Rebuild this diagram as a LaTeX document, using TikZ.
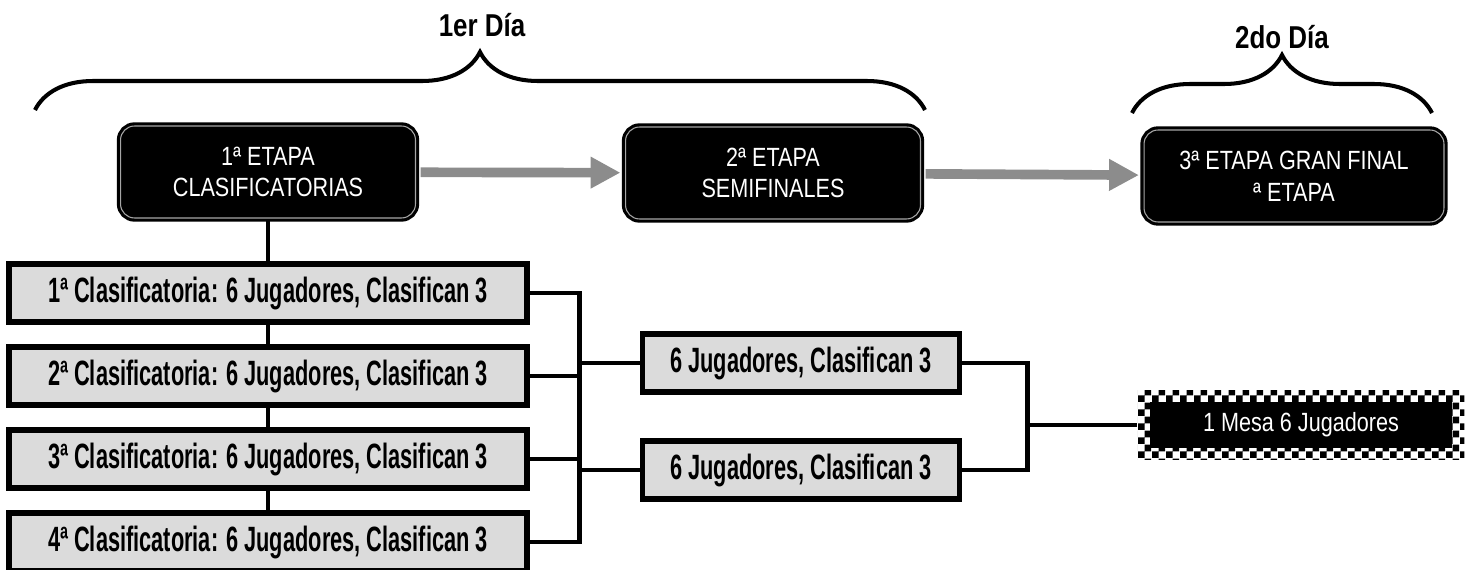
\documentclass[tikz,border=0pt]{standalone}
\usepackage{fontspec}
\setmainfont{Liberation Sans}
\newfontfamily\etapafont{Liberation Sans}[FakeStretch=0.82]
\newfontfamily\clasfont{Liberation Sans}[FakeStretch=0.62]
\usetikzlibrary{arrows.meta,decorations.pathreplacing,patterns}

\pgfdeclarepatternformonly{tablero}{\pgfpointorigin}{\pgfqpoint{8pt}{8pt}}{\pgfqpoint{8pt}{8pt}}{%
  \pgfpathrectangle{\pgfpointorigin}{\pgfqpoint{4pt}{4pt}}%
  \pgfpathrectangle{\pgfqpoint{4pt}{4pt}}{\pgfqpoint{4pt}{4pt}}%
  \pgfusepath{fill}}

\begin{document}
\begin{tikzpicture}[x=0.02cm,y=-0.02cm,
	etapa/.style={draw=black,fill=black,rounded corners=8pt,line width=1.8pt,double=gray!70,double distance=0.6pt,text=white,align=center,inner sep=0pt,minimum width=5.9cm,minimum height=1.84cm,font=\etapafont\fontsize{15}{18}\selectfont},
	clasif/.style={draw=black,fill=black!14,line width=3pt,inner sep=0pt,minimum width=10.36cm,minimum height=1.16cm,font=\clasfont\bfseries\fontsize{20}{22}\selectfont},
	semi/.style={clasif,minimum width=6.34cm},
	mesa/.style={pattern=tablero,inner sep=0pt,minimum width=6.54cm,minimum height=1.4cm,text=white,font=\etapafont\fontsize{15}{17}\selectfont,
		path picture={\fill[black] ([shift={(7pt,7pt)}]path picture bounding box.south west) rectangle ([shift={(-7pt,-7pt)}]path picture bounding box.north east);}},
	flecha/.style={draw=black!45,line width=5.5pt,shorten <=2pt,shorten >=2pt,-{Triangle[length=17pt,width=17pt]}},
	link/.style={line width=2.8pt},
	llave/.style={line width=2.3pt,decorate,decoration={brace,amplitude=33pt}},
	dia/.style={font=\etapafont\bfseries\fontsize{18}{20}\selectfont}]
		\useasboundingbox (0,0) rectangle (1473,570);

		% dias
		\node[dia] at (482,25) (dia1) {1er Día};
		\node[dia] at (1282,37) (dia2) {2do Día};
		\coordinate (l1a) at (35,110);
		\coordinate (l1b) at (925,110);
		\coordinate (l2a) at (1132,113);
		\coordinate (l2b) at (1432,113);
		\draw[llave] (l1a) -- (l1b);
		\draw[llave] (l2a) -- (l2b);

		% etapas
		\node[etapa] at (268,172) (e1) {1ª ETAPA\\CLASIFICATORIAS};
		\node[etapa] at (773,173) (e2) {2ª ETAPA\\SEMIFINALES};
		\node[etapa,minimum width=6cm] at (1294,176) (e3) {3ª ETAPA GRAN FINAL\\ª ETAPA};

		\draw[flecha] (e1) -- (e2);
		\draw[flecha] (e2) -- (e3);

		% clasificatorias
		\node[clasif] at (268,293) (c1) {1ª Clasificatoria: 6 Jugadores, Clasifican 3};
		\node[clasif] at (268,376) (c2) {2ª Clasificatoria: 6 Jugadores, Clasifican 3};
		\node[clasif] at (268,459) (c3) {3ª Clasificatoria: 6 Jugadores, Clasifican 3};
		\node[clasif] at (268,542) (c4) {4ª Clasificatoria: 6 Jugadores, Clasifican 3};

		\draw[link] (e1) -- (c1);
		\draw[link] (c1) -- (c2);
		\draw[link] (c2) -- (c3);
		\draw[link] (c3) -- (c4);

		% semifinales y final
		\node[semi] at (801,363) (s1) {6 Jugadores, Clasifican 3};
		\node[semi] at (801,470) (s2) {6 Jugadores, Clasifican 3};
		\node[mesa] at (1301,425) (fin) {1 Mesa 6 Jugadores};

		\draw[link] (c1.east) -- ++(50,0) |- (s2.west);
		\draw[link] (c2.east) -- ++(50,0) |- (s1.west);
		\draw[link] (c3.east) -- ++(50,0) |- (s2.west);
		\draw[link] (c4.east) -- ++(50,0) |- (s1.west);

		\draw[link] (s1.east) -- ++(65,0) |- (fin.west);
		\draw[link] (s2.east) -- ++(65,0) |- (fin.west);
	\end{tikzpicture}
\end{document}
